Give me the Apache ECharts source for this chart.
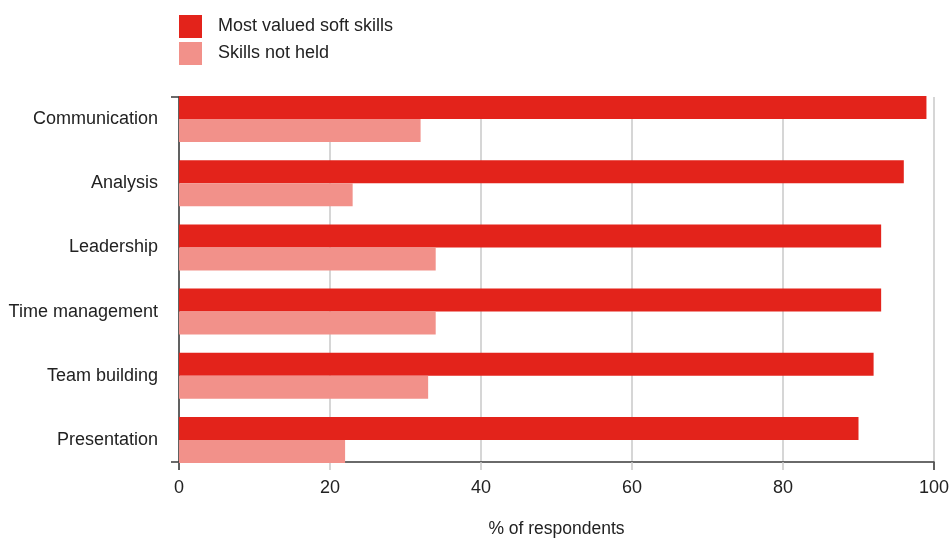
<!DOCTYPE html>
<html>
<head>
<meta charset="utf-8">
<script src="https://cdn.jsdelivr.net/npm/echarts@6/dist/echarts.min.js"></script>
<style>html,body{margin:0;padding:0;background:#fff}#c{width:952px;height:539px}</style>
</head>
<body>
<div id="c"></div>
<script>
const categories = ['Communication', 'Analysis', 'Leadership', 'Time management', 'Team building', 'Presentation'];
const mostValued = [99, 96, 93, 93, 92, 90];
const notHeld = [32, 23, 34, 34, 33, 22];
const seriesNames = ['Most valued soft skills', 'Skills not held'];
const xAxisName = '% of respondents';

const FONT = '"Liberation Sans", Arial, sans-serif';
const AXIS = '#3a3a3a';
const TXT = '#222';
const chart = echarts.init(document.getElementById('c'), null, {renderer: 'canvas'});
chart.setOption({
  animation: false,
  textStyle: {fontFamily: FONT},
  legend: {
    orient: 'vertical', left: 179, top: 15, padding: 0,
    itemWidth: 23, itemHeight: 23, itemGap: 4,
    icon: 'rect',
    data: seriesNames,
    textStyle: {fontFamily: FONT, fontSize: 18, color: TXT, padding: [0, 0, 0, 11]}
  },
  grid: [
    {left: 179, right: 18, top: 97, bottom: 77, outerBoundsMode: 'none', containLabel: false},
    {left: 179, right: 18, top: 119, bottom: 99, outerBoundsMode: 'none', containLabel: false}
  ],
  xAxis: [
    {gridIndex: 0, type: 'value', position: 'bottom', min: 0, max: 100, interval: 20,
     axisLine: {show: true, lineStyle: {color: AXIS, width: 1.5}},
     axisTick: {show: true, length: 8, lineStyle: {color: '#c8c8c8', width: 1.5}},
     splitLine: {show: true, lineStyle: {color: '#c8c8c8', width: 1.5}},
     axisLabel: {fontFamily: FONT, fontSize: 18, color: TXT, margin: 17},
     name: xAxisName, nameLocation: 'middle', nameGap: 58,
     nameTextStyle: {fontFamily: FONT, fontSize: 17.5, color: TXT}},
    {gridIndex: 0, type: 'value', position: 'bottom', min: 0, max: 100, interval: 100,
     axisLine: {show: false},
     axisTick: {show: true, length: 8, lineStyle: {color: AXIS, width: 1.5}},
     splitLine: {show: false}, axisLabel: {show: false}},
    {gridIndex: 1, type: 'value', min: 0, max: 100, show: false}
  ],
  yAxis: [
    {gridIndex: 0, type: 'value', min: 0, max: 1, interval: 1,
     axisLine: {show: true, lineStyle: {color: AXIS, width: 1.5}},
     axisTick: {show: true, length: 8, lineStyle: {color: AXIS, width: 1.5}},
     axisLabel: {show: false}, splitLine: {show: false}},
    {gridIndex: 1, type: 'category', data: categories, inverse: true, boundaryGap: false,
     axisLine: {show: false}, axisTick: {show: false},
     axisLabel: {fontFamily: FONT, fontSize: 18, color: TXT, margin: 21}}
  ],
  series: [
    {name: seriesNames[0], type: 'bar', xAxisIndex: 2, yAxisIndex: 1, data: mostValued,
     barWidth: 23, barGap: '0%', itemStyle: {color: '#E3231B'}},
    {name: seriesNames[1], type: 'bar', xAxisIndex: 2, yAxisIndex: 1, data: notHeld,
     barWidth: 23, barGap: '0%', itemStyle: {color: '#F2918A'}}
  ]
});
</script>
</body>
</html>
